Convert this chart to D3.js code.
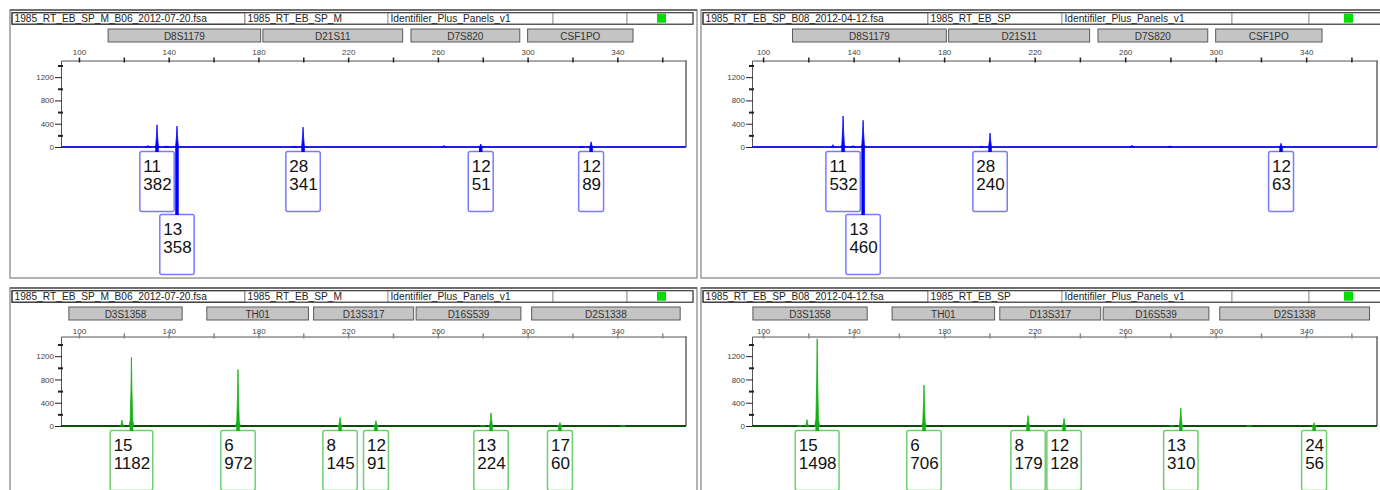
<!DOCTYPE html>
<html>
<head>
<meta charset="utf-8">
<script src="https://cdn.jsdelivr.net/npm/d3@7"></script>
<style>
  body { margin: 0; background: #fff; }
  svg { display: block; font-family: "Liberation Sans", Arial, sans-serif; }
</style>
</head>
<body>
<svg id="chart" width="1380" height="490"></svg>
<script>
// header texts
const fileNames = ["1985_RT_EB_SP_M_B06_2012-07-20.fsa", "1985_RT_EB_SP_B08_2012-04-12.fsa"];
const sampleNames = ["1985_RT_EB_SP_M", "1985_RT_EB_SP"];
const panelName = "Identifiler_Plus_Panels_v1";

// marker bins (bp)
const blueMarkers = ["D8S1179", "D21S11", "D7S820", "CSF1PO"];
const blueBins = [[113, 181], [182, 244.3], [248, 296.5], [300, 347]];
const greenMarkers = ["D3S1358", "TH01", "D13S317", "D16S539", "D2S1338"];
const greenBins = [[95.5, 146], [157, 202.3], [204.6, 249.2], [250.3, 297], [301.8, 368]];

// axis ticks
const xTickValues = [100, 120, 140, 160, 180, 200, 220, 240, 260, 280, 300, 320, 340, 360];
const xTickLabels = [100, 140, 180, 220, 260, 300, 340];
const yTickValues = [0, 200, 400, 600, 800, 1000, 1200, 1400];
const yTickLabels = [0, 400, 800, 1200];

// called peaks: size (bp), allele, height (RFU)
const blueLeftSizes = [134.8, 143.7, 199.9, 279.1, 328.3];
const blueLeftAlleles = ["11", "13", "28", "12", "12"];
const blueLeftHeights = [382, 358, 341, 51, 89];
const blueLeftNoise = [[130.8, 25], [139, 15], [196, 12], [262.7, 25], [324, 18]];

const blueRightSizes = [135.35, 144.2, 200.3, 328.9];
const blueRightAlleles = ["11", "13", "28", "12"];
const blueRightHeights = [532, 460, 240, 63];
const blueRightNoise = [[130.9, 40], [139.8, 25], [196.6, 15], [263, 30], [279.8, 20]];

const greenLeftSizes = [123.4, 170.9, 216.4, 232.4, 283.7, 314.4];
const greenLeftAlleles = ["15", "6", "8", "12", "13", "17"];
const greenLeftHeights = [1182, 972, 145, 91, 224, 60];
const greenLeftNoise = [[119.2, 100], [280, 10], [342.5, 15]];

const greenRightSizes = [123.9, 171.1, 217.1, 233, 284.6, 343.5];
const greenRightAlleles = ["15", "6", "8", "12", "13", "24"];
const greenRightHeights = [1498, 706, 179, 128, 310, 56];
const greenRightNoise = [[116.3, 15], [119.4, 110], [280.7, 10], [314.8, 15]];

// layout
const FRAME_W = 687;
const cols = [
  { ox: 10, domain: [92, 370.6], cells: [233, 143, 165, 74, 66], greenAt: 30 },
  { ox: 701, domain: [95.1, 371.3], cells: [225, 134, 170, 77, 90], greenAt: 35 }
];
const rows = [
  { oy: 10, frameH: 268, axisY: 60.5, baseY: 147, yMax: 1486, tickColor: "#222", labelGap: 5.5,
    trace: "#0000ff", base: "#2222dd", box: "#7a7aff", markers: blueMarkers, bins: blueBins },
  { oy: 288, frameH: 230, axisY: 336.5, baseY: 426, yMax: 1538, tickColor: "#888", labelGap: 3,
    trace: "#12b012", base: "#0c4d0c", box: "#6fcf6f", markers: greenMarkers, bins: greenBins }
];

const svg = d3.select("#chart");

function makePeaks(sizes, alleles, heights) {
  return sizes.map((s, i) => ({ size: s, allele: alleles[i], height: heights[i] }));
}

function spike(s, h) {
  return [[s - 1.1, 0], [s - 0.55, h * 0.08], [s - 0.2, h * 0.55], [s, h],
          [s + 0.2, h * 0.55], [s + 0.55, h * 0.08], [s + 1.1, 0]];
}

function drawPanel(ri, ci, peaks, noise) {
  const row = rows[ri], col = cols[ci];
  const ox = col.ox, oy = row.oy;
  const g = svg.append("g");

  // outer frame
  g.append("rect")
    .attr("x", ox).attr("y", oy)
    .attr("width", FRAME_W).attr("height", row.frameH)
    .attr("fill", "#fff").attr("stroke", "#9a9a9a").attr("stroke-width", 1.5);
  g.append("line")
    .attr("x1", ox).attr("x2", ox + FRAME_W)
    .attr("y1", oy).attr("y2", oy)
    .attr("stroke", "#707070").attr("stroke-width", 2);

  // header cells
  const hy = oy + 2.7;
  const texts = [fileNames[ci], sampleNames[ci], panelName, "", ""];
  let cx = ox + 2;
  col.cells.forEach((w, i) => {
    g.append("rect")
      .attr("x", cx).attr("y", hy).attr("width", w).attr("height", 11.5)
      .attr("fill", "#fff").attr("stroke", i == 0 ? "#333" : "#999").attr("stroke-width", 1);
    if (texts[i]) {
      g.append("text")
        .attr("x", cx + 2.5).attr("y", hy + 9.5)
        .style("font-size", "10.2px").style("fill", "#222")
        .text(texts[i]);
    }
    if (i == 4) {
      g.append("rect")
        .attr("x", cx + col.greenAt).attr("y", hy + 1)
        .attr("width", 9).attr("height", 9)
        .attr("fill", "#00dd00");
    }
    cx += w;
  });
  g.append("rect")
    .attr("x", ox + 2).attr("y", hy)
    .attr("width", d3.sum(col.cells)).attr("height", 11.5)
    .attr("fill", "none").attr("stroke", "#333");

  const x = d3.scaleLinear().domain(col.domain).range([ox + 51, ox + 676]);
  const y = d3.scaleLinear().domain([0, row.yMax]).range([row.baseY, row.axisY]);

  // marker bins
  const binG = g.selectAll(".bin")
    .data(row.markers.map((m, i) => ({ name: m, lo: row.bins[i][0], hi: row.bins[i][1] })))
    .enter().append("g").attr("class", "bin");
  binG.append("rect")
    .attr("x", d => x(d.lo)).attr("y", oy + 19)
    .attr("width", d => x(d.hi) - x(d.lo)).attr("height", 13)
    .attr("fill", "#c4c4c4").attr("stroke", "#5a5a5a").attr("stroke-width", 1);
  binG.append("text")
    .attr("x", d => (x(d.lo) + x(d.hi)) / 2).attr("y", oy + 29.5)
    .attr("text-anchor", "middle")
    .style("font-size", "10px").style("fill", "#333")
    .text(d => d.name);

  // top axis
  const axTop = g.append("g")
    .attr("transform", `translate(0,${row.axisY})`)
    .call(d3.axisTop(x).tickValues(xTickValues).tickSize(3).tickSizeOuter(0)
      .tickFormat(d => xTickLabels.includes(d) ? d : ""));
  axTop.select(".domain").attr("stroke", "#555").attr("stroke-width", 1.2);
  axTop.selectAll(".tick line").attr("y1", 2).attr("stroke", row.tickColor).attr("stroke-width", 1.5);
  axTop.selectAll(".tick text")
    .attr("y", -row.labelGap).attr("dy", 0)
    .style("font-size", "8px").style("fill", "#444")
    .style("font-family", "Liberation Sans, Arial, sans-serif");

  // left axis
  const axLeft = g.append("g")
    .attr("transform", `translate(${ox + 51},0)`)
    .call(d3.axisLeft(y).tickValues(yTickValues).tickSize(6).tickSizeOuter(0)
      .tickFormat(d => yTickLabels.includes(d) ? d : ""));
  axLeft.select(".domain").attr("stroke", "#555");
  axLeft.selectAll(".tick line")
    .attr("x2", d => yTickLabels.includes(d) ? -6 : -3)
    .attr("x1", d => yTickLabels.includes(d) ? 1 : 2)
    .attr("stroke", "#222")
    .attr("stroke-width", d => yTickLabels.includes(d) ? 1 : 2);
  axLeft.selectAll(".tick text")
    .attr("x", -7)
    .style("font-size", "8px").style("fill", "#444")
    .style("font-family", "Liberation Sans, Arial, sans-serif");

  // right border of plot area
  g.append("line")
    .attr("x1", x.range()[1]).attr("x2", x.range()[1])
    .attr("y1", row.axisY).attr("y2", row.baseY)
    .attr("stroke", "#666").attr("stroke-width", 1.5);

  // baseline of trace
  g.append("line")
    .attr("x1", x.range()[0]).attr("x2", x.range()[1])
    .attr("y1", y(0)).attr("y2", y(0))
    .attr("stroke", row.base).attr("stroke-width", 1.8);

  // peaks
  const area = d3.area().x(d => x(d[0])).y0(y(0)).y1(d => y(d[1]));
  const shapes = noise.map(n => spike(n[0], n[1])).concat(peaks.map(p => spike(p.size, p.height)));
  g.selectAll(".peak")
    .data(shapes)
    .enter().append("path")
    .attr("class", "peak")
    .attr("d", area)
    .attr("fill", row.trace).attr("stroke", row.trace).attr("stroke-width", 0.8);

  // allele label boxes, stacked where they collide
  const rowRight = [];
  const labels = [];
  peaks.forEach(p => {
    const lg = g.append("g");
    const t1 = lg.append("text").style("font-size", "17px").style("fill", "#111").text(p.allele);
    const t2 = lg.append("text").style("font-size", "17px").style("fill", "#111").text(p.height);
    const tw = Math.max(t1.node().getComputedTextLength(), t2.node().getComputedTextLength());
    const w = tw + 6;
    const px = x(p.size);
    const left = px - w / 2;
    let r = 0;
    while (rowRight[r] !== undefined && left < rowRight[r]) r++;
    rowRight[r] = left + w;
    const top = row.baseY + 4.5 + r * 63;
    lg.insert("rect", "text")
      .attr("x", left).attr("y", top).attr("width", w).attr("height", 60).attr("rx", 2)
      .attr("fill", "#fff").attr("stroke", row.box).attr("stroke-width", 1.5);
    t1.attr("x", left + 3.5).attr("y", top + 20);
    t2.attr("x", left + 3.5).attr("y", top + 38);
    labels.push({ px, top });
  });
  g.selectAll(".connector")
    .data(labels)
    .enter().append("line")
    .attr("class", "connector")
    .attr("x1", d => d.px).attr("x2", d => d.px)
    .attr("y1", y(0)).attr("y2", d => d.top + 0.5)
    .attr("stroke", row.trace).attr("stroke-width", 3.5);
}

drawPanel(0, 0, makePeaks(blueLeftSizes, blueLeftAlleles, blueLeftHeights), blueLeftNoise);
drawPanel(0, 1, makePeaks(blueRightSizes, blueRightAlleles, blueRightHeights), blueRightNoise);
drawPanel(1, 0, makePeaks(greenLeftSizes, greenLeftAlleles, greenLeftHeights), greenLeftNoise);
drawPanel(1, 1, makePeaks(greenRightSizes, greenRightAlleles, greenRightHeights), greenRightNoise);
</script>
</body>
</html>
